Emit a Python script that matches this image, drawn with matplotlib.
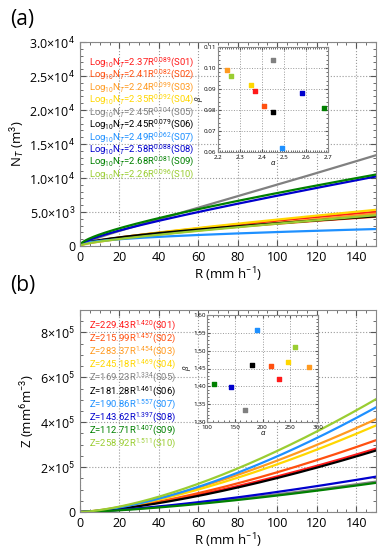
import numpy as np
import matplotlib
matplotlib.use('Agg')
import matplotlib.pyplot as plt
from matplotlib.ticker import MultipleLocator, FixedLocator

plt.rcParams['font.family'] = ['Open Sans', 'DejaVu Sans']
plt.rcParams['mathtext.fontset'] = 'custom'
plt.rcParams['mathtext.rm'] = 'Roboto'
plt.rcParams['mathtext.it'] = 'Roboto:italic'

# station names and colours
stations = ['S01', 'S02', 'S03', 'S04', 'S05', 'S06', 'S07', 'S08', 'S09', 'S10']
colors = ['#ff1a1a', '#ff5010', '#ff9a20', '#ffd700', '#808080',
          '#000000', '#1e90ff', '#0000cd', '#008000', '#9acd32']

# Log10 NT = a R^b
nt_a = [2.37, 2.41, 2.24, 2.35, 2.45, 2.45, 2.49, 2.58, 2.68, 2.26]
nt_b = [0.089, 0.082, 0.099, 0.092, 0.104, 0.079, 0.062, 0.088, 0.081, 0.096]

# Z = a R^b
z_a = [229.43, 215.99, 283.37, 245.18, 169.23, 181.28, 190.86, 143.62, 112.71, 258.92]
z_b = [1.420, 1.457, 1.454, 1.469, 1.334, 1.461, 1.557, 1.397, 1.407, 1.511]

# tick labels
nt_ticks = [0, 5000, 10000, 15000, 20000, 25000, 30000]
nt_labels = ['0', '5.0×10$^3$', '1.0×10$^4$', '1.5×10$^4$', '2.0×10$^4$', '2.5×10$^4$', '3.0×10$^4$']
z_ticks = [0, 2e5, 4e5, 6e5, 8e5]
z_labels = ['0', '2×10$^5$', '4×10$^5$', '6×10$^5$', '8×10$^5$']

R = np.linspace(0.01, 150, 400)

W, H = 387, 550
fig = plt.figure(figsize=(W / 100, H / 100), dpi=100)


def rect(l, t, r, b):
    return [l / W, 1 - b / H, (r - l) / W, (b - t) / H]


def style_main(ax):
    ax.tick_params(direction='in', which='both', top=True, right=True,
                   labelsize=9, length=4, color='#555555')
    ax.tick_params(which='minor', length=2.5)
    ax.grid(True, which='major', linestyle=':', color='#999999', linewidth=0.8)
    for s in ax.spines.values():
        s.set_color('#888888')
    ax.set_xlim(0, 150)
    ax.xaxis.set_major_locator(FixedLocator([0, 20, 40, 60, 80, 100, 120, 140]))
    ax.xaxis.set_minor_locator(MultipleLocator(5))
    ax.set_xlabel('R (mm h$^{-1}$)', fontsize=9.5, labelpad=1)


def style_inset(ax):
    ax.tick_params(direction='in', which='both', top=True, right=True,
                   labelsize=4.5, length=2.5, color='#555555')
    ax.tick_params(axis='x', pad=2.5)
    ax.tick_params(axis='y', pad=1)
    ax.tick_params(which='minor', length=1.3)
    ax.grid(True, which='major', linestyle=':', color='#999999', linewidth=0.7)
    for s in ax.spines.values():
        s.set_color('#888888')


# ---------------- (a) ----------------
ax1 = fig.add_axes(rect(80, 42, 376, 246))
for i in range(len(stations)):
    nt = 10 ** (nt_a[i] * R ** nt_b[i])
    ax1.plot(R, nt, color=colors[i], linewidth=1.6)
style_main(ax1)
ax1.set_ylim(0, 3.0e4)
ax1.set_yticks(nt_ticks)
ax1.set_yticklabels(nt_labels)
ax1.yaxis.set_minor_locator(MultipleLocator(1000))
ax1.set_ylabel('N$_T$ (m$^3$)', fontsize=9.5, labelpad=2)
for i in range(len(stations)):
    ax1.text(0.03, 0.902 - i * 0.061,
             'Log$_{10}$N$_T$=%.2fR$^{%.3f}$(%s)' % (nt_a[i], nt_b[i], stations[i]),
             color=colors[i], fontsize=6.8, family='Roboto',
             transform=ax1.transAxes, va='center')
fig.text(10 / W, 1 - 20 / H, '(a)', fontsize=15, va='center')

in1 = fig.add_axes(rect(218, 47, 328, 152))
for i in range(len(stations)):
    in1.scatter(nt_a[i], nt_b[i], marker='s', s=10, color=colors[i], zorder=3)
style_inset(in1)
in1.set_xlim(2.2, 2.7)
in1.set_ylim(0.06, 0.11)
in1.xaxis.set_major_locator(MultipleLocator(0.1))
in1.xaxis.set_minor_locator(MultipleLocator(0.01))
in1.yaxis.set_major_locator(MultipleLocator(0.01))
in1.yaxis.set_minor_locator(MultipleLocator(0.002))
in1.set_xlabel('α', fontsize=5.5, labelpad=0, style='italic')
in1.set_ylabel('β', fontsize=5.5, labelpad=1, style='italic')

# ---------------- (b) ----------------
ax2 = fig.add_axes(rect(80, 310, 376, 512))
for i in range(len(stations)):
    z = z_a[i] * R ** z_b[i]
    ax2.plot(R, z, color=colors[i], linewidth=1.6)
style_main(ax2)
ax2.set_ylim(0, 9e5)
ax2.set_yticks(z_ticks)
ax2.set_yticklabels(z_labels)
ax2.yaxis.set_minor_locator(MultipleLocator(5e4))
ax2.set_ylabel('Z (mm$^6$m$^{-3}$)', fontsize=9.5, labelpad=2)
for i in range(len(stations)):
    ax2.text(0.03, 0.926 - i * 0.065,
             'Z=%.2fR$^{%.3f}$(%s)' % (z_a[i], z_b[i], stations[i]),
             color=colors[i], fontsize=6.8, family='Roboto',
             transform=ax2.transAxes, va='center')
fig.text(10 / W, 1 - 286 / H, '(b)', fontsize=15, va='center')

in2 = fig.add_axes(rect(207, 315, 318, 422))
for i in range(len(stations)):
    in2.scatter(z_a[i], z_b[i], marker='s', s=10, color=colors[i], zorder=3)
style_inset(in2)
in2.set_xlim(100, 300)
in2.set_ylim(1.30, 1.60)
in2.xaxis.set_major_locator(MultipleLocator(50))
in2.xaxis.set_minor_locator(MultipleLocator(10))
in2.yaxis.set_major_locator(MultipleLocator(0.05))
in2.yaxis.set_minor_locator(MultipleLocator(0.01))
in2.set_xlabel('α', fontsize=5.5, labelpad=0, style='italic')
in2.set_ylabel('β', fontsize=5.5, labelpad=1, style='italic')

fig.savefig('out.png', dpi=100)
